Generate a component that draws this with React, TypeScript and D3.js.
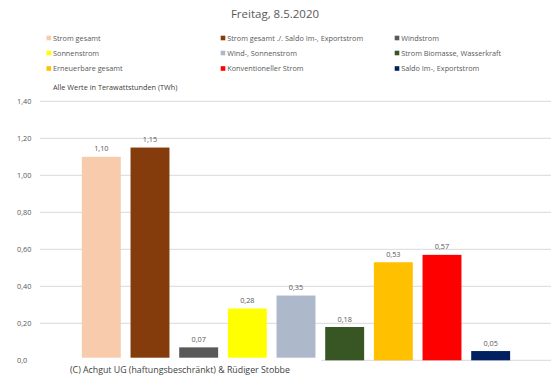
import React from "react";
import * as d3 from "d3";

const categories = [
  "Strom gesamt",
  "Strom gesamt ./. Saldo Im-, Exportstrom",
  "Windstrom",
  "Sonnenstrom",
  "Wind-, Sonnenstrom",
  "Strom Biomasse, Wasserkraft",
  "Erneuerbare gesamt",
  "Konventioneller Strom",
  "Saldo Im-, Exportstrom",
];
const values = [1.1, 1.15, 0.07, 0.28, 0.35, 0.18, 0.53, 0.57, 0.05];
const colors = [
  "#F8CBAD",
  "#843C0C",
  "#595959",
  "#FFFF00",
  "#ADB9CA",
  "#375623",
  "#FFC000",
  "#FF0000",
  "#002060",
];
const yTicks = [0, 0.2, 0.4, 0.6, 0.8, 1.0, 1.2, 1.4];
const yTickLabels = ["0,0", "0,20", "0,40", "0,60", "0,80", "1,00", "1,20", "1,40"];
const title = "Freitag, 8.5.2020";
const subtitle = "Alle Werte in Terawattstunden (TWh)";
const copyright = "(C) Achgut UG (haftungsbeschränkt) & Rüdiger Stobbe";

const W = 551;
const H = 381;
const FONT = "'Open Sans', 'Liberation Sans', sans-serif";

export default function App() {
  const y = d3.scaleLinear().domain([0, 1.4]).range([360.3, 101.3]);
  const x = d3
    .scaleBand<string>()
    .domain(categories)
    .range([77, 515])
    .paddingInner(0.2)
    .paddingOuter(0.1);
  const fmt = (v: number) => v.toFixed(2).replace(".", ",");

  const legendCols = [48.8, 223, 397];
  const legendRows = [38, 53, 68.5];

  return (
    <svg
      width={W}
      height={H}
      style={{ position: "absolute", left: 0, top: 0, background: "#fff" }}
      fontFamily={FONT}
    >
      <rect x={0} y={0} width={W} height={H} fill="#fff" />
      <text x={275} y={18} textAnchor="middle" fontSize={11.5} fill="#595959">
        {title}
      </text>
      {categories.map((c, i) => {
        const cx = legendCols[i % 3];
        const cy = legendRows[Math.floor(i / 3)];
        return (
          <g key={c}>
            <rect x={cx - 2.3} y={cy - 2.3} width={4.6} height={4.6} fill={colors[i]} />
            <text x={cx + 4.2} y={cy + 2.7} fontSize={7.3} fill="#595959">
              {c}
            </text>
          </g>
        );
      })}
      <text x={53} y={90} fontSize={7.3} fill="#404040">
        {subtitle}
      </text>
      {yTicks.map((t, i) => (
        <g key={t}>
          <line x1={40} x2={W} y1={y(t)} y2={y(t)} stroke="#d9d9d9" strokeWidth={1} />
          <text x={17} y={y(t) + 2.7} fontSize={7.3} fill="#595959">
            {yTickLabels[i]}
          </text>
        </g>
      ))}
      {categories.map((c, i) => (
        <g key={c}>
          <rect
            x={x(c)!}
            y={y(values[i])}
            width={x.bandwidth()}
            height={y(0) - y(values[i])}
            fill={colors[i]}
          />
          <text
            x={x(c)! + x.bandwidth() / 2}
            y={y(values[i]) - 5.5}
            textAnchor="middle"
            fontSize={7.3}
            fill="#595959"
          >
            {fmt(values[i])}
          </text>
        </g>
      ))}
      <rect x={37} y={357.7} width={284} height={H - 357.7} fill="#fff" />
      <text x={70} y={373} fontSize={8.8} fill="#404040">
        {copyright}
      </text>
    </svg>
  );
}
